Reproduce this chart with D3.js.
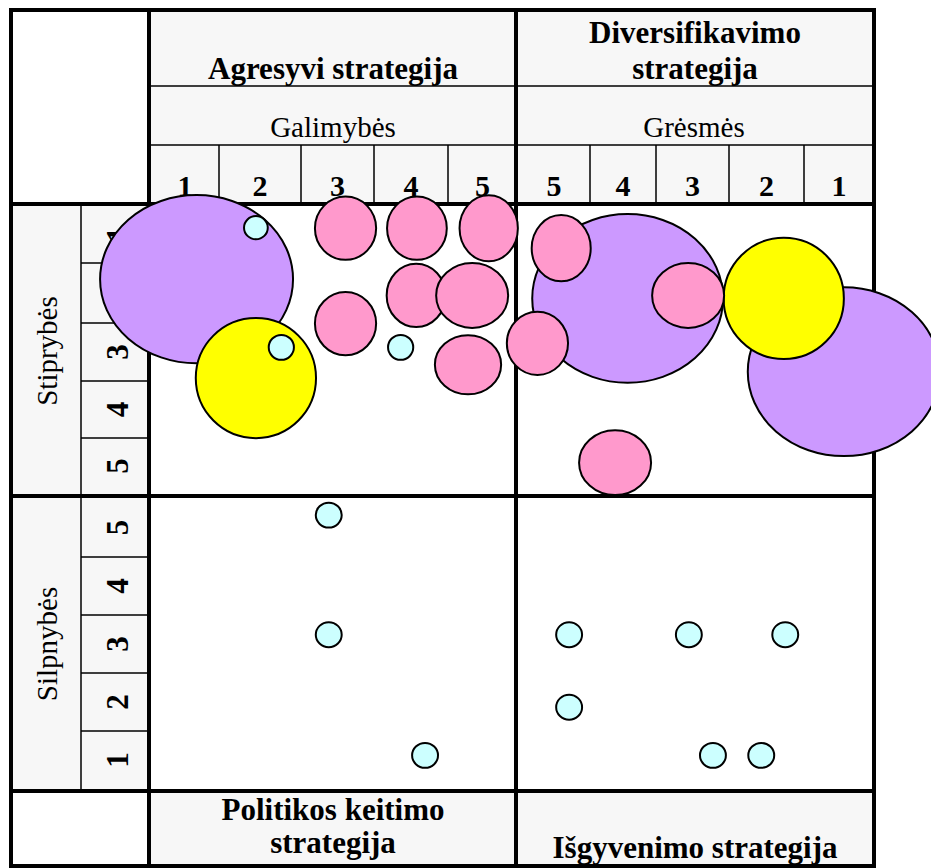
<!DOCTYPE html>
<html>
<head>
<meta charset="utf-8">
<script src="https://cdn.jsdelivr.net/npm/d3@7"></script>
<style>
  body { margin: 0; background: #fff; }
  text { font-family: "Liberation Serif", "Times New Roman", serif; fill: #000; }
</style>
</head>
<body>
<div id="chart"></div>
<script>
// axis labels
var oppLabels = [1, 2, 3, 4, 5];   // Galimybės
var thrLabels = [5, 4, 3, 2, 1];   // Grėsmės
var strLabels = [1, 2, 3, 4, 5];   // Stiprybės
var weakLabels = [5, 4, 3, 2, 1];  // Silpnybės

// bubbles per quadrant: x, y = rating, w, h = extent in rating units, g = group
var strOpp = [
  {g: "A", x: 1.17, y: 1.77, w: 2.68, h: 2.90},
  {g: "B", x: 1.95, y: 3.45, w: 1.67, h: 2.07},
  {g: "C", x: 3.11, y: 0.89, w: 0.85, h: 1.09},
  {g: "C", x: 4.08, y: 0.89, w: 0.83, h: 1.09},
  {g: "C", x: 5.09, y: 0.89, w: 0.81, h: 1.14},
  {g: "C", x: 4.07, y: 2.04, w: 0.82, h: 1.09},
  {g: "C", x: 4.85, y: 2.04, w: 1.00, h: 1.12},
  {g: "C", x: 3.11, y: 2.51, w: 0.85, h: 1.09},
  {g: "C", x: 4.79, y: 3.22, w: 0.92, h: 1.02},
  {g: "D", x: 1.95, y: 0.88, w: 0.33, h: 0.40},
  {g: "D", x: 2.26, y: 2.92, w: 0.35, h: 0.43},
  {g: "D", x: 3.86, y: 2.92, w: 0.35, h: 0.43}
];
var strThr = [
  {g: "A", x: 3.93, y: 2.09, w: 2.65, h: 2.91},
  {g: "A", x: 0.93, y: 3.34, w: 2.67, h: 2.91},
  {g: "B", x: 1.77, y: 2.09, w: 1.67, h: 2.09},
  {g: "C", x: 5.23, y: 2.85, w: 0.85, h: 1.09},
  {g: "C", x: 4.90, y: 1.24, w: 0.82, h: 1.14},
  {g: "C", x: 3.06, y: 2.04, w: 1.00, h: 1.12},
  {g: "C", x: 4.12, y: 4.94, w: 1.00, h: 1.12}
];
var weakOpp = [
  {g: "D", x: 2.88, y: 5.21, w: 0.36, h: 0.43},
  {g: "D", x: 2.88, y: 3.16, w: 0.36, h: 0.43},
  {g: "D", x: 4.19, y: 1.08, w: 0.36, h: 0.43}
];
var weakThr = [
  {g: "D", x: 4.79, y: 3.16, w: 0.36, h: 0.43},
  {g: "D", x: 3.05, y: 3.16, w: 0.36, h: 0.43},
  {g: "D", x: 1.75, y: 3.16, w: 0.36, h: 0.43},
  {g: "D", x: 4.79, y: 1.91, w: 0.36, h: 0.43},
  {g: "D", x: 2.72, y: 1.08, w: 0.36, h: 0.43},
  {g: "D", x: 2.07, y: 1.08, w: 0.36, h: 0.43}
];

var groupOrder = ["A", "B", "C", "D"];
var colors = {A: "#cc99ff", B: "#ffff00", C: "#ff99cc", D: "#ccffff"};

var svgWidth = 931;
var svgHeight = 868;

var svg = d3.select("#chart")
  .append("svg")
  .attr("width", svgWidth)
  .attr("height", svgHeight);

// scales (cells of the table are not all the same size)
var xOpp = d3.scaleLinear()
  .domain([0.5, 1.5, 2.5, 3.5, 4.5, 5.5])
  .range([151, 219, 301, 374, 448, 517]);
var xThr = d3.scaleLinear()
  .domain([5.5, 4.5, 3.5, 2.5, 1.5, 0.5])
  .range([518, 590, 656, 729, 804, 874]);
var yStr = d3.scaleLinear()
  .domain([0.5, 1.5, 2.5, 3.5, 4.5, 5.5])
  .range([206, 263, 323, 381, 438, 494]);
var yWeak = d3.scaleLinear()
  .domain([5.5, 4.5, 3.5, 2.5, 1.5, 0.5])
  .range([498, 557, 615, 673, 731, 789]);
var sizeX = d3.scaleLinear().domain([0, 1]).range([0, 72]);
var sizeY = d3.scaleLinear().domain([0, 1]).range([0, 58]);

var L = 11, R = 874, T = 10, B = 866;
var vMid = 516, vLeft = 149, vLab = 81;
var hHead = 204, hMid = 496, hFoot = 791;
var gray = "#f7f7f7";

// background panels
svg.append("rect").attr("x", 0).attr("y", 0).attr("width", svgWidth).attr("height", svgHeight).attr("fill", "#fff");
svg.append("rect").attr("x", vLeft).attr("y", T).attr("width", R - vLeft).attr("height", hHead - T).attr("fill", gray);
svg.append("rect").attr("x", L).attr("y", hHead).attr("width", vLeft - L).attr("height", hFoot - hHead).attr("fill", gray);
svg.append("rect").attr("x", vLeft).attr("y", hFoot).attr("width", R - vLeft).attr("height", B - hFoot).attr("fill", gray);
svg.append("rect").attr("x", vLeft).attr("y", hHead).attr("width", R - vLeft).attr("height", hFoot - hHead).attr("fill", "#fff");

// header texts
var head = svg.append("g").attr("font-weight", "bold").attr("font-size", 31).attr("text-anchor", "middle");
head.append("text").attr("x", 333).attr("y", 79).text("Agresyvi strategija");
head.append("text").attr("x", 695).attr("y", 43).text("Diversifikavimo");
head.append("text").attr("x", 695).attr("y", 79).text("strategija");
head.append("text").attr("x", 333).attr("y", 820).text("Politikos keitimo");
head.append("text").attr("x", 333).attr("y", 853).text("strategija");
head.append("text").attr("x", 695).attr("y", 858).text("Išgyvenimo strategija");

svg.append("text").attr("x", 333).attr("y", 137).attr("font-size", 29).attr("text-anchor", "middle").text("Galimybės");
svg.append("text").attr("x", 694).attr("y", 137).attr("font-size", 29).attr("text-anchor", "middle").text("Grėsmės");

svg.append("text").attr("transform", "translate(57,351) rotate(-90)")
  .attr("font-size", 29).attr("text-anchor", "middle").text("Stiprybės");
svg.append("text").attr("transform", "translate(57,644) rotate(-90)")
  .attr("font-size", 29).attr("text-anchor", "middle").text("Silpnybės");

// column numbers
svg.append("g").selectAll("text")
  .data(oppLabels).enter().append("text")
  .attr("x", d => xOpp(d)).attr("y", 196)
  .attr("font-size", 30).attr("font-weight", "bold").attr("text-anchor", "middle")
  .text(d => d);
svg.append("g").selectAll("text")
  .data(thrLabels).enter().append("text")
  .attr("x", d => xThr(d)).attr("y", 196)
  .attr("font-size", 30).attr("font-weight", "bold").attr("text-anchor", "middle")
  .text(d => d);

// row numbers (rotated, baseline on the right)
function rowNumbers(labels, y) {
  svg.append("g").selectAll("text")
    .data(labels).enter().append("text")
    .attr("transform", d => `translate(128,${y(d)}) rotate(-90)`)
    .attr("font-size", 31).attr("font-weight", "bold").attr("text-anchor", "middle")
    .text(d => d);
}
rowNumbers(strLabels, yStr);
rowNumbers(weakLabels, yWeak);

// thin grid lines
var thin = svg.append("g").attr("stroke", "#000").attr("stroke-width", 1.5);
thin.append("line").attr("x1", vLeft).attr("x2", R).attr("y1", 86).attr("y2", 86);
thin.append("line").attr("x1", vLeft).attr("x2", R).attr("y1", 145).attr("y2", 145);
[1.5, 2.5, 3.5, 4.5].forEach(function(v) {
  thin.append("line").attr("x1", xOpp(v)).attr("x2", xOpp(v)).attr("y1", 145).attr("y2", hHead);
  thin.append("line").attr("x1", xThr(v)).attr("x2", xThr(v)).attr("y1", 145).attr("y2", hHead);
  thin.append("line").attr("x1", vLab).attr("x2", vLeft).attr("y1", yStr(v)).attr("y2", yStr(v));
  thin.append("line").attr("x1", vLab).attr("x2", vLeft).attr("y1", yWeak(v)).attr("y2", yWeak(v));
});
thin.append("line").attr("x1", vLab).attr("x2", vLab).attr("y1", hHead).attr("y2", hFoot);

// thick lines
var thick = svg.append("g").attr("stroke", "#000").attr("stroke-width", 4);
thick.append("rect").attr("x", L).attr("y", T).attr("width", R - L).attr("height", B - T).attr("fill", "none");
[vLeft, vMid].forEach(function(x) {
  thick.append("line").attr("x1", x).attr("x2", x).attr("y1", T).attr("y2", B);
});
[hHead, hMid, hFoot].forEach(function(y) {
  thick.append("line").attr("x1", L).attr("x2", R).attr("y1", y).attr("y2", y);
});

// bubbles
function drawBubbles(data, xs, ys) {
  var sorted = data.slice().sort((a, b) => groupOrder.indexOf(a.g) - groupOrder.indexOf(b.g));
  svg.append("g").selectAll("ellipse")
    .data(sorted).enter().append("ellipse")
    .attr("cx", d => xs(d.x))
    .attr("cy", d => ys(d.y))
    .attr("rx", d => sizeX(d.w) / 2)
    .attr("ry", d => sizeY(d.h) / 2)
    .attr("fill", d => colors[d.g])
    .attr("stroke", "#000")
    .attr("stroke-width", 2);
}
drawBubbles(strOpp, xOpp, yStr);
drawBubbles(strThr, xThr, yStr);
drawBubbles(weakOpp, xOpp, yWeak);
drawBubbles(weakThr, xThr, yWeak);
</script>
</body>
</html>
